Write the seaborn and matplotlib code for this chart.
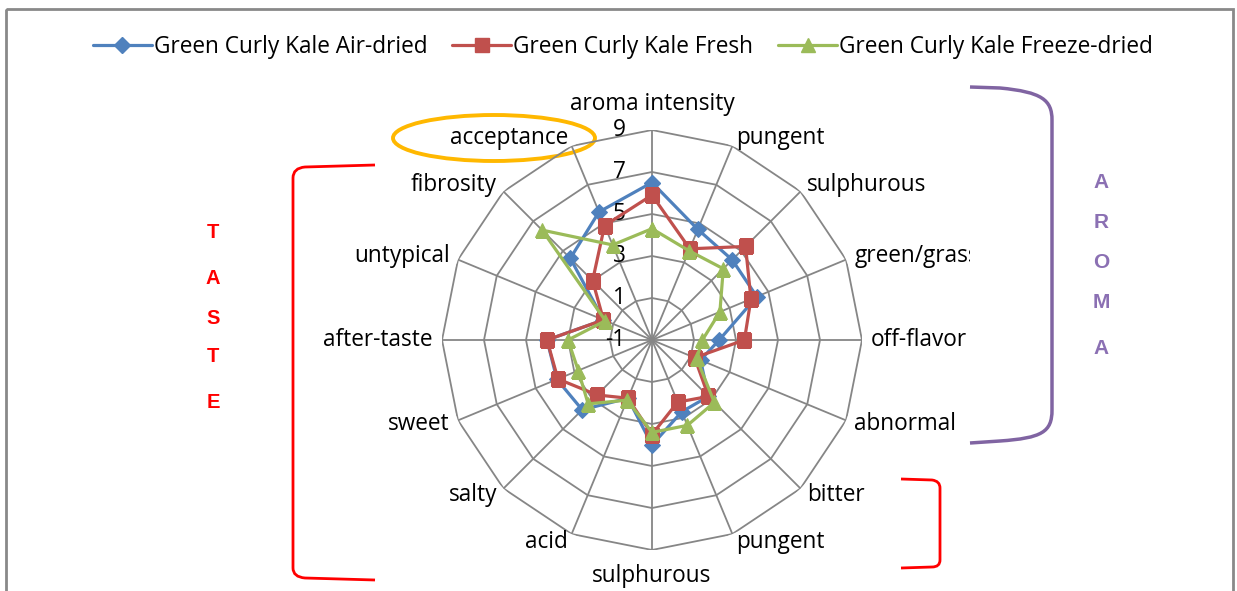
import numpy as np
import pandas as pd
import seaborn as sns
import matplotlib.pyplot as plt
from matplotlib.lines import Line2D
from matplotlib.patches import Ellipse, PathPatch, Rectangle
from matplotlib.path import Path

# Data
categories = ['aroma intensity', 'pungent', 'sulphurous', 'green/grass', 'off-flavor',
              'abnormal', 'bitter', 'pungent', 'sulphurous', 'acid', 'salty', 'sweet',
              'after-taste', 'untypical', 'fibrosity', 'acceptance']
air_dried = [6.5, 4.7, 4.4, 4.4, 2.2, 1.5, 2.8, 2.7, 4.0, 2.0, 3.7, 3.9, 4.0, 1.5, 4.5, 5.6]
fresh = [5.9, 3.7, 5.3, 4.1, 3.4, 1.2, 2.8, 2.2, 3.5, 2.0, 2.7, 3.85, 4.0, 1.5, 3.0, 4.9]
freeze_dried = [4.3, 3.6, 3.8, 2.5, 1.4, 1.3, 3.2, 3.4, 3.4, 2.1, 3.3, 2.8, 3.0, 1.4, 6.4, 3.9]
series_names = ['Green Curly Kale Air-dried', 'Green Curly Kale Fresh', 'Green Curly Kale Freeze-dried']
tick_levels = [-1, 1, 3, 5, 7, 9]

colors = ['#4F81BD', '#C0504D', '#9BBB59']
markers = ['D', 's', '^']
msizes = [8.5, 10, 10]
grid_col = '#868686'
FS = 16.3

sns.set_style('white')
plt.rcParams['font.family'] = ['Open Sans', 'DejaVu Sans']
plt.rcParams['text.color'] = 'black'

W, H = 1237, 591
fig = plt.figure(figsize=(W / 100, H / 100), dpi=100)

# overlay axes in pixel coordinates for the hand-drawn annotations
over = fig.add_axes([0, 0, 1, 1], zorder=0)
over.set_xlim(0, W)
over.set_ylim(H, 0)
over.axis('off')

# chart border
over.add_patch(Rectangle((6, 9), 1227, 600, fill=False, edgecolor='#898989', lw=2))

# radar axes: centre (652, 340), radius 210 px
cx, cy, R = 652, 340, 210
ax = fig.add_axes([(cx - R) / W, (H - cy - R) / H, 2 * R / W, 2 * R / H],
                  projection='polar', zorder=1)
ax.set_facecolor('none')
ax.set_theta_zero_location('N')
ax.set_theta_direction(-1)
ax.set_ylim(-1, 9)
ax.grid(False)
ax.spines['polar'].set_visible(False)
ax.set_xticks([])
ax.set_yticks([])

n = len(categories)
angles = np.arange(n) * 2 * np.pi / n
closed = np.append(angles, angles[0] + 2 * np.pi)

# polygon grid + spokes
for lev in tick_levels[1:]:
    ax.plot(closed, [lev] * (n + 1), color=grid_col, lw=1.3, zorder=1)
for a in angles:
    ax.plot([a, a], [-1, 9], color=grid_col, lw=1.3, zorder=1)

# series
rows = []
for name, vals in zip(series_names, [air_dried, fresh, freeze_dried]):
    v = list(vals) + [vals[0]]
    for t, val in zip(closed, v):
        rows.append({'series': name, 'theta': t, 'value': val})
df = pd.DataFrame(rows)

for i, name in enumerate(series_names):
    sns.lineplot(data=df[df['series'] == name], x='theta', y='value', sort=False,
                 estimator=None, color=colors[i], marker=markers[i], markersize=msizes[i],
                 markeredgecolor=colors[i], linewidth=2.3, ax=ax, zorder=3 + i)
ax.set_xlabel('')
ax.set_ylabel('')

# tick labels left of the vertical axis
for lev in tick_levels:
    ax.annotate(str(lev), xy=(0, lev), xytext=(-19, 0), textcoords='offset points',
                ha='right', va='center', fontsize=FS, annotation_clip=False)

# category labels
for a, lab in zip(angles, categories):
    s, c = np.sin(a), np.cos(a)
    if abs(s) < 1e-6:
        ha, off = 'center', (0, 19 * np.sign(c))
    else:
        ha = 'left' if s > 0 else 'right'
        off = (6.5 * s, 6.5 * c)
    ax.annotate(lab, xy=(a, 9), xytext=off, textcoords='offset points',
                ha=ha, va='center', fontsize=FS, annotation_clip=False)

# plot area ends at x=970 in the reference: labels running past it are cut off
fig.add_artist(Rectangle((970, 240), 70, 120, transform=over.transData,
                         facecolor='white', edgecolor='none', zorder=10))

# legend
handles = [Line2D([0], [0], color=colors[i], lw=2.3, marker=markers[i],
                  markersize=msizes[i], markeredgecolor=colors[i]) for i in range(3)]
fig.legend(handles, series_names, loc='center', bbox_to_anchor=(623 / W, 1 - 47 / H),
           ncol=3, frameon=False, fontsize=FS, handlelength=2.6, handletextpad=0.1,
           columnspacing=1.1)

# orange ellipse round "acceptance"
over.add_patch(Ellipse((494, 138), 202, 46, fill=False, edgecolor='#FFB800', lw=2.8, zorder=5))

# brackets
P = Path.MOVETO
L = Path.LINETO
Q = Path.CURVE3
C = Path.CURVE4
left = Path([(375, 165), (305, 167), (293, 168), (293, 178), (293, 568), (293, 577), (305, 578), (375, 580)],
            [P, L, Q, Q, L, Q, Q, L])
over.add_patch(PathPatch(left, fill=False, edgecolor='#FF0000', lw=2))
right = Path([(901, 479), (932, 480), (940, 481), (940, 488), (940, 560), (940, 567), (932, 567), (901, 568)],
             [P, L, Q, Q, L, Q, Q, L])
over.add_patch(PathPatch(right, fill=False, edgecolor='#FF0000', lw=2))
aroma = Path([(970, 87), (1000, 88), (1042, 92), (1052, 100), (1052, 120), (1052, 410),
              (1052, 432), (1042, 438), (1000, 441), (970, 443)],
             [P, L, C, C, C, L, C, C, C, L])
over.add_patch(PathPatch(aroma, fill=False, edgecolor='#8064A2', lw=2.5))

for ch, y in zip('TASTE', [232, 278, 318, 357, 402]):
    over.text(213, y, ch, color='#FF0000', fontsize=14.5, fontweight='bold',
              family='Liberation Sans', ha='center', va='center')
for ch, y in zip('AROMA', [183, 222, 262, 303, 348]):
    over.text(1101, y, ch, color='#8B70B3', fontsize=15, fontweight='bold',
              family='Liberation Sans', ha='center', va='center')

fig.savefig('out.png', dpi=100)
